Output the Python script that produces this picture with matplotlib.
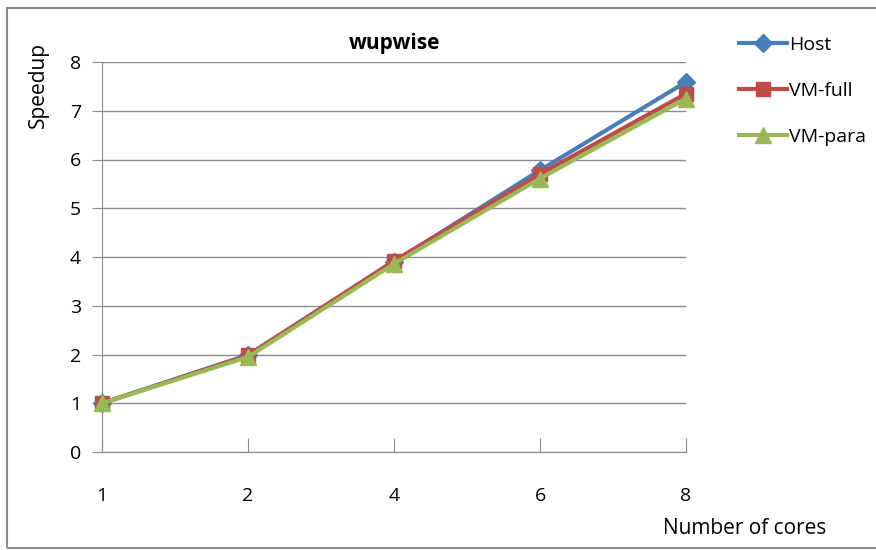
import matplotlib
matplotlib.use("Agg")
import matplotlib.pyplot as plt
from matplotlib.patches import Rectangle

cores = ["1", "2", "4", "6", "8"]
host = [1.0, 1.99, 3.90, 5.78, 7.59]
vm_full = [1.0, 1.98, 3.92, 5.70, 7.35]
vm_para = [1.0, 1.95, 3.86, 5.61, 7.25]
y_ticks = [0, 1, 2, 3, 4, 5, 6, 7, 8]

plt.rcParams['font.family'] = ['Open Sans', 'DejaVu Sans']

W, H = 876, 550
fig = plt.figure(figsize=(W / 100, H / 100), dpi=100)
fig.patch.set_facecolor("white")

# chart-area frame
fig.add_artist(Rectangle((7 / W, 2 / H), (W + 10) / W, (H - 10) / H,
                         transform=fig.transFigure, fill=False,
                         edgecolor="#8c8c8c", linewidth=1.5))

left, right, top, bottom = 102, 686, 62, 452
ax = fig.add_axes([left / W, 1 - bottom / H, (right - left) / W, (bottom - top) / H])

x = list(range(len(cores)))
series = [
    ("Host", host, "#4A7EBB", "D", 9),
    ("VM-full", vm_full, "#BE4B48", "s", 10.5),
    ("VM-para", vm_para, "#98B954", "^", 12),
]
for name, vals, col, mk, ms in series:
    ax.plot(x, vals, color=col, linewidth=3.0, marker=mk, markersize=ms,
            markeredgecolor=col, markerfacecolor=col, label=name,
            clip_on=False, zorder=3)

ax.set_xlim(0, len(cores) - 1)
ax.set_ylim(0, 8)
ax.set_yticks(y_ticks)
ax.set_xticks(x)
ax.set_xticklabels(cores)
ax.grid(axis="y", color="#8c8c8c", linewidth=1.0)
ax.set_axisbelow(True)
for s in ["top", "right"]:
    ax.spines[s].set_visible(False)
ax.spines["left"].set_color("#8c8c8c")
ax.spines["bottom"].set_color("#8c8c8c")
ax.tick_params(axis="y", length=7, color="#8c8c8c", labelsize=14, pad=8)
ax.tick_params(axis="x", direction="in", length=10, color="#8c8c8c",
               labelsize=14, pad=25)

ax.set_title("wupwise", fontsize=15, fontweight="bold", pad=9)
fig.text(38 / W, 1 - 85 / H, "Speedup", rotation=90, fontsize=15,
         ha="center", va="center")
fig.text(745 / W, 1 - 528 / H, "Number of cores", fontsize=15,
         ha="center", va="center")

ax.legend(loc="upper left", bbox_to_anchor=(731 / W, 1 - 28 / H),
          bbox_transform=fig.transFigure, frameon=False, fontsize=14,
          handlelength=2.5, handletextpad=0.1, labelspacing=1.45,
          borderaxespad=0)

fig.savefig("out.png", dpi=100)
